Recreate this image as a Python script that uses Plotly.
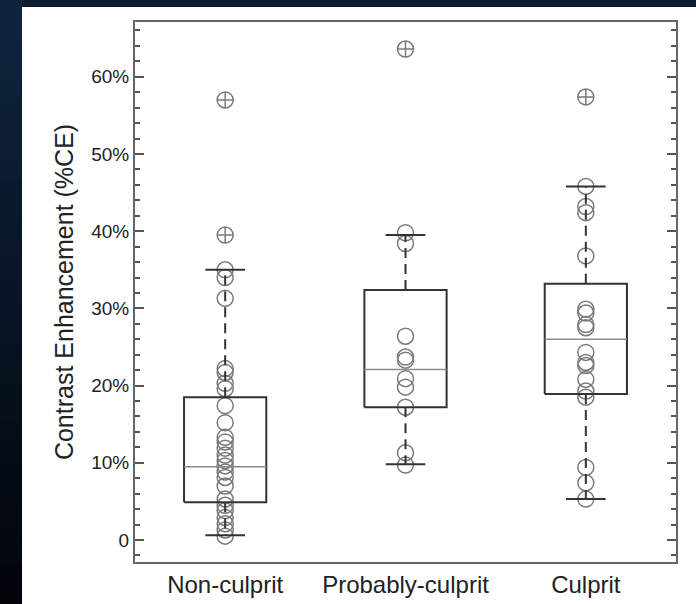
import plotly.graph_objects as go

categories = ["Non-culprit", "Probably-culprit", "Culprit"]

# point values (%CE)
non_culprit = [35.0, 34.0, 31.3, 22.2, 21.7, 20.3, 19.6, 17.4, 15.2, 13.3, 12.7, 11.9,
               11.0, 10.3, 9.6, 8.8, 8.1, 7.0, 5.3, 4.5, 3.8, 2.9, 2.1, 1.3, 0.5]
probably_culprit = [39.8, 38.4, 26.4, 23.7, 23.3, 20.9, 19.8, 17.2, 11.3, 9.7]
culprit = [45.8, 43.2, 42.4, 36.8, 29.9, 29.4, 27.9, 27.5, 24.3, 23.0, 22.6, 20.8,
           19.3, 18.5, 9.4, 7.4, 5.3]

outliers_non_culprit = [57.0, 39.5]
outliers_probably_culprit = [63.6]
outliers_culprit = [57.4]

# box statistics
q1 = [4.9, 17.2, 18.9]
median = [9.5, 22.1, 26.0]
q3 = [18.5, 32.4, 33.2]
whisker_low = [0.6, 9.8, 5.3]
whisker_high = [35.0, 39.5, 45.8]

y_tick_vals = [0, 10, 20, 30, 40, 50, 60]
y_tick_text = ["0", "10%", "20%", "30%", "40%", "50%", "60%"]

points = [non_culprit, probably_culprit, culprit]
outliers = [outliers_non_culprit, outliers_probably_culprit, outliers_culprit]

BOX_HALF = 0.228
CAP_HALF = 0.11
PT_COLOR = "#7a7a7a"
LINE_COLOR = "#333333"

fig = go.Figure()

for i, cat in enumerate(categories):
    fig.add_trace(go.Scatter(
        x=[i] * len(points[i]), y=points[i], mode="markers",
        marker=dict(symbol="circle-open", size=16, color=PT_COLOR, line=dict(width=1.5)),
        showlegend=False, hoverinfo="y"))
    fig.add_trace(go.Scatter(
        x=[i] * len(outliers[i]), y=outliers[i], mode="markers",
        marker=dict(symbol="circle-cross-open", size=16, color=PT_COLOR, line=dict(width=1.5)),
        showlegend=False, hoverinfo="y"))
    fig.add_trace(go.Scatter(
        x=[i, i, None, i, i], y=[q3[i], whisker_high[i], None, q1[i], whisker_low[i]],
        mode="lines", line=dict(color=LINE_COLOR, width=2, dash="10px,6px"),
        showlegend=False, hoverinfo="skip"))
    fig.add_trace(go.Scatter(
        x=[i - CAP_HALF, i + CAP_HALF, None, i - CAP_HALF, i + CAP_HALF],
        y=[whisker_high[i], whisker_high[i], None, whisker_low[i], whisker_low[i]],
        mode="lines", line=dict(color=LINE_COLOR, width=2),
        showlegend=False, hoverinfo="skip"))
    fig.add_trace(go.Scatter(
        x=[i - BOX_HALF, i + BOX_HALF, i + BOX_HALF, i - BOX_HALF, i - BOX_HALF],
        y=[q1[i], q1[i], q3[i], q3[i], q1[i]],
        mode="lines", line=dict(color=LINE_COLOR, width=2),
        showlegend=False, hoverinfo="skip"))
    fig.add_trace(go.Scatter(
        x=[i - BOX_HALF, i + BOX_HALF], y=[median[i], median[i]],
        mode="lines", line=dict(color="#8a8a8a", width=1.5),
        showlegend=False, hoverinfo="skip"))

L, R, T, B = 135, 20, 22, 42
W, H = 696, 604
pw, ph = W - L - R, H - T - B

def px_to_paper_x(px):
    return (px - L) / pw

def px_to_paper_y(py):
    return (H - B - py) / ph

# dark frame gradient (left strip: navy at top fading to near-black at bottom)
def mix(c1, c2, t):
    return "#" + "".join(f"{round(a + (b - a) * t):02x}" for a, b in zip(c1, c2))

top_c, bot_c = (14, 36, 62), (2, 5, 10)
n_bands = 30
for k in range(n_bands):
    y0p = H * k / n_bands
    y1p = H * (k + 1) / n_bands + 1
    fig.add_shape(type="rect", xref="paper", yref="paper",
                  x0=px_to_paper_x(-2), x1=px_to_paper_x(23),
                  y0=px_to_paper_y(y1p), y1=px_to_paper_y(y0p),
                  fillcolor=mix(top_c, bot_c, k / (n_bands - 1)),
                  line=dict(width=0), layer="below")
fig.add_shape(type="rect", xref="paper", yref="paper",
              x0=px_to_paper_x(22), x1=px_to_paper_x(W + 2),
              y0=px_to_paper_y(8), y1=px_to_paper_y(-2),
              fillcolor="#0b1c31", line=dict(width=0), layer="below")

fig.add_shape(type="rect", xref="paper", yref="paper",
              x0=px_to_paper_x(22), x1=px_to_paper_x(W + 2),
              y0=px_to_paper_y(H + 2), y1=px_to_paper_y(7),
              fillcolor="white", line=dict(width=0), layer="below")

fig.update_layout(
    width=W, height=H,
    margin=dict(l=L, r=R, t=T, b=B),
    paper_bgcolor="#0a1a2d",
    plot_bgcolor="white",
    font=dict(family="Liberation Sans, Arial, sans-serif", color="#222222"),
    xaxis=dict(
        range=[-0.5, 2.5], tickvals=[0, 1, 2], ticktext=categories,
        showgrid=False, zeroline=False, showline=True, mirror=True,
        linecolor="#666666", linewidth=2, ticks="", automargin=False,
        tickfont=dict(size=24, color="#222222")),
    yaxis=dict(
        range=[-2.85, 67.1], tickvals=y_tick_vals, ticktext=y_tick_text,
        showgrid=False, zeroline=False, showline=True, mirror="ticks",
        linecolor="#666666", linewidth=2, automargin=False,
        ticks="inside", ticklen=9, tickwidth=2, tickcolor="#555555",
        minor=dict(dtick=2, ticks="inside", ticklen=5, tickwidth=1.5, tickcolor="#555555"),
        tickfont=dict(size=19, color="#222222"),
        title=dict(text="Contrast Enhancement (%CE)", font=dict(size=25, color="#222222"),
                   standoff=10)),
)

fig.write_html("out.html", post_script="document.body.style.margin='0';",
               config={"displayModeBar": False})
